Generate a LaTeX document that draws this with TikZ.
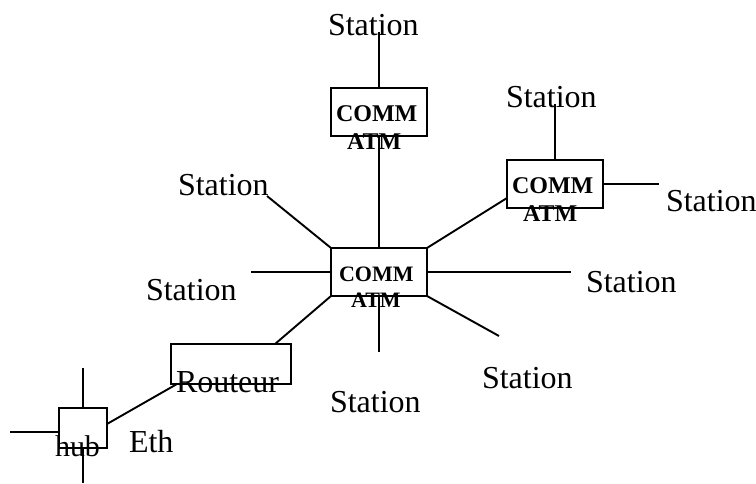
\documentclass[tikz,border=0pt]{standalone}
\usepackage{fontspec}
\setmainfont{Liberation Serif}
\tikzset{
  boxn/.style={draw=black,line width=1.9pt,fill=none,inner sep=0pt,outer sep=0pt},
  wire/.style={draw=black,line width=1.9pt},
  lab/.style={anchor=base west,inner sep=0pt,outer sep=0pt,font=\fontsize{32}{32}\selectfont},
  comm/.style={anchor=base west,inner sep=0pt,outer sep=0pt,font=\fontsize{24}{24}\selectfont\bfseries},
  commsmall/.style={anchor=base west,inner sep=0pt,outer sep=0pt,font=\fontsize{22}{22}\selectfont\bfseries}
}
\begin{document}
\begin{tikzpicture}[x=1pt,y=-1pt]
\useasboundingbox (0,0) rectangle (756,484);
% boxes
\node[boxn,minimum width=96pt,minimum height=48pt] (top) at (379,112) {};
\node[boxn,minimum width=96pt,minimum height=48pt] (right) at (555,184) {};
\node[boxn,minimum width=96pt,minimum height=48pt] (center) at (379,272) {};
\node[boxn,minimum width=120pt,minimum height=40pt] (router) at (231,364) {};
\node[boxn,minimum width=48pt,minimum height=40pt] (hub) at (83,428) {};
% free ends
\coordinate (e1) at (379,32);
\coordinate (e2) at (555,104);
\coordinate (e3) at (659,184);
\coordinate (e4) at (267,196);
\coordinate (e5) at (251,272);
\coordinate (e6) at (571,272);
\coordinate (e7) at (499,336);
\coordinate (e8) at (379,352);
\coordinate (e9) at (83,368);
\coordinate (e10) at (10,432);
\coordinate (e11) at (83,483);
\coordinate (rtop) at (275,344);
\coordinate (rbot) at (177,384);
\coordinate (hubr) at (107,424);
\coordinate (hubl) at (59,432);
\coordinate (rgl) at (507,198);
% connectors
\draw[wire] (top.north) -- (e1);
\draw[wire] (top.south) -- (center.north);
\draw[wire] (right.north) -- (e2);
\draw[wire] (right.east) -- (e3);
\draw[wire] (center.north east) -- (rgl);
\draw[wire] (center.north west) -- (e4);
\draw[wire] (center.west) -- (e5);
\draw[wire] (center.east) -- (e6);
\draw[wire] (center.south east) -- (e7);
\draw[wire] (center.south) -- (e8);
\draw[wire] (center.south west) -- (rtop);
\draw[wire] (rbot) -- (hubr);
\draw[wire] (hub.north) -- (e9);
\draw[wire] (hubl) -- (e10);
\draw[wire] (hub.south) -- (e11);
% labels
\node[lab] (s1) at (328,36) {Station};
\node[lab] (s2) at (506,108) {Station};
\node[lab] (s3) at (666,212) {Station};
\node[lab] (s4) at (178,196) {Station};
\node[lab] (s5) at (146,300) {Station};
\node[lab] (s6) at (586,292) {Station};
\node[lab] (s7) at (482,388) {Station};
\node[lab] (s8) at (330,412) {Station};
\node[lab] (rt) at (176,392) {Routeur};
\node[lab] (eth) at (129,452) {Eth};
\node[lab] (hb) at (55,456) {\fontsize{30}{30}\selectfont hub};
\node[comm] (c1) at (336,122) {COMM};
\node[comm] (a1) at (347,150) {ATM};
\node[comm] (c2) at (512,194) {COMM};
\node[comm] (a2) at (523,222) {ATM};
\node[commsmall] (c3) at (339,282) {COMM};
\node[commsmall] (a3) at (351,308) {ATM};
\end{tikzpicture}
\end{document}
